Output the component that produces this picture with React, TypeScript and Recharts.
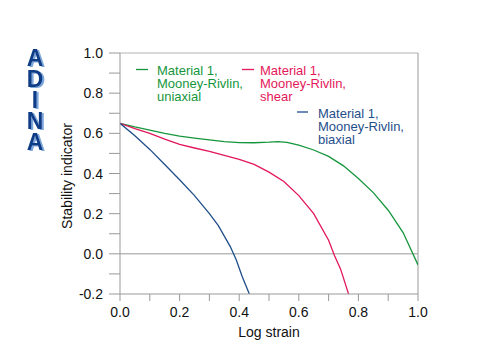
import { Line, LineChart, ReferenceLine, XAxis, YAxis } from "recharts";

interface Pt {
  x: number;
  y: number;
}

const GREEN = "#16963c";
const RED = "#e3175a";
const BLUE = "#1f4e8a";
const AXIS = "#999999";

// uniaxial
const uniaxial: Pt[] = [
  { x: 0, y: 0.65 },
  { x: 0.05, y: 0.632 },
  { x: 0.1, y: 0.616 },
  { x: 0.15, y: 0.6 },
  { x: 0.2, y: 0.586 },
  { x: 0.25, y: 0.576 },
  { x: 0.3, y: 0.567 },
  { x: 0.35, y: 0.559 },
  { x: 0.4, y: 0.554 },
  { x: 0.45, y: 0.553 },
  { x: 0.5, y: 0.556 },
  { x: 0.53, y: 0.559 },
  { x: 0.56, y: 0.555 },
  { x: 0.6, y: 0.541 },
  { x: 0.65, y: 0.517 },
  { x: 0.7, y: 0.485 },
  { x: 0.75, y: 0.438 },
  { x: 0.8, y: 0.375 },
  { x: 0.85, y: 0.305 },
  { x: 0.9, y: 0.217 },
  { x: 0.95, y: 0.106 },
  { x: 1.0, y: -0.055 },
];

// shear
const shear: Pt[] = [
  { x: 0, y: 0.65 },
  { x: 0.05, y: 0.624 },
  { x: 0.1, y: 0.6 },
  { x: 0.15, y: 0.571 },
  { x: 0.2, y: 0.545 },
  { x: 0.25, y: 0.527 },
  { x: 0.3, y: 0.51 },
  { x: 0.35, y: 0.49 },
  { x: 0.4, y: 0.47 },
  { x: 0.45, y: 0.445 },
  { x: 0.5, y: 0.407 },
  { x: 0.55, y: 0.36 },
  { x: 0.6, y: 0.29 },
  { x: 0.65, y: 0.2 },
  { x: 0.7, y: 0.068 },
  { x: 0.72, y: -0.01 },
  { x: 0.74, y: -0.075 },
  { x: 0.767, y: -0.2 },
];

// biaxial
const biaxial: Pt[] = [
  { x: 0, y: 0.65 },
  { x: 0.05, y: 0.588 },
  { x: 0.1, y: 0.52 },
  { x: 0.15, y: 0.445 },
  { x: 0.2, y: 0.369 },
  { x: 0.25, y: 0.29 },
  { x: 0.3, y: 0.2 },
  { x: 0.33, y: 0.14 },
  { x: 0.37, y: 0.036 },
  { x: 0.39, y: -0.03 },
  { x: 0.41, y: -0.113 },
  { x: 0.434, y: -0.2 },
];

const xTicks = [0, 0.1, 0.2, 0.3, 0.4, 0.5, 0.6, 0.7, 0.8, 0.9, 1.0];
const yTicks = [-0.2, -0.1, 0, 0.1, 0.2, 0.3, 0.4, 0.5, 0.6, 0.7, 0.8, 0.9, 1.0];

const legendLines = [
  { color: GREEN, dash: [136, 148, 69.5], tx: 157, ty: 74.5, lines: ["Material 1,", "Mooney-Rivlin,", "uniaxial"] },
  { color: RED, dash: [242, 254, 69.5], tx: 260, ty: 74.5, lines: ["Material 1,", "Mooney-Rivlin,", "shear"] },
  { color: BLUE, dash: [297, 308, 112], tx: 318, ty: 117.5, lines: ["Material 1,", "Mooney-Rivlin,", "biaxial"] },
];

const logo = ["A", "D", "I", "N", "A"];

const FONT = "'Liberation Sans', Arial, sans-serif";

const isMajor = (v: number) => Math.round(v * 10) % 2 === 0;

function XTick(props: any) {
  const { x, y, payload } = props;
  const v = payload.value as number;
  const top = y - 13;
  return (
    <g>
      <line x1={x} x2={x} y1={top} y2={top + 7} stroke={AXIS} strokeWidth={1} />
      {isMajor(v) && (
        <text x={x} y={y} dy="0.71em" textAnchor="middle" fontSize={14} fill="#111" fontFamily={FONT}>
          {v.toFixed(1)}
        </text>
      )}
    </g>
  );
}

function YTick(props: any) {
  const { x, y, payload } = props;
  const v = payload.value as number;
  const right = x + 17;
  return (
    <g>
      <line x1={right - 11} x2={right} y1={y} y2={y} stroke={AXIS} strokeWidth={1} />
      {isMajor(v) && (
        <text x={x} y={y} dy="0.36em" textAnchor="end" fontSize={14} fill="#111" fontFamily={FONT}>
          {v.toFixed(1)}
        </text>
      )}
    </g>
  );
}

export default function App() {
  return (
    <div style={{ position: "absolute", left: 0, top: 0, width: 480, height: 353, background: "#fff" }}>
      <LineChart width={480} height={353} margin={{ top: 53, right: 62, bottom: 29, left: 60 }}>
        <XAxis
          type="number"
          dataKey="x"
          domain={[0, 1]}
          ticks={xTicks}
          interval={0}
          height={30}
          tickSize={7}
          tickMargin={6}
          tickLine={false}
          tick={<XTick />}
          stroke={AXIS}
          allowDataOverflow
        />
        <YAxis
          type="number"
          dataKey="y"
          domain={[-0.2, 1]}
          ticks={yTicks}
          interval={0}
          width={60}
          tickSize={11}
          tickMargin={6}
          tickLine={false}
          tick={<YTick />}
          stroke={AXIS}
          allowDataOverflow
        />
        <ReferenceLine y={0} stroke={AXIS} strokeWidth={1} />
        <ReferenceLine y={1} stroke="#cccccc" strokeWidth={1.5} />
        <ReferenceLine x={1} stroke={AXIS} strokeWidth={1} />
        <Line data={uniaxial} dataKey="y" type="linear" stroke={GREEN} strokeWidth={1.3} dot={false} isAnimationActive={false} />
        <Line data={shear} dataKey="y" type="linear" stroke={RED} strokeWidth={1.3} dot={false} isAnimationActive={false} />
        <Line data={biaxial} dataKey="y" type="linear" stroke={BLUE} strokeWidth={1.3} dot={false} isAnimationActive={false} />
      </LineChart>
      <svg width={480} height={353} style={{ position: "absolute", left: 0, top: 0, pointerEvents: "none" }}>
        <defs>
          <filter id="logoShadow" x="-20%" y="-20%" width="150%" height="150%">
            <feOffset in="SourceAlpha" dx={1.5} dy={1} result="off" />
            <feFlood floodColor="#7fa8dc" />
            <feComposite in2="off" operator="in" result="shadow" />
            <feMerge>
              <feMergeNode in="shadow" />
              <feMergeNode in="SourceGraphic" />
            </feMerge>
          </filter>
        </defs>
        <text x={269} y={332} textAnchor="middle" dominantBaseline="central" fontSize={14} fill="#111" fontFamily={FONT}>
          Log strain
        </text>
        <text
          x={67}
          y={176}
          textAnchor="middle"
          dominantBaseline="central"
          fontSize={14}
          fill="#111"
          fontFamily={FONT}
          transform="rotate(-90 67 176)"
        >
          Stability indicator
        </text>
        {legendLines.map((l) => (
          <g key={l.lines[2]}>
            <line x1={l.dash[0]} x2={l.dash[1]} y1={l.dash[2]} y2={l.dash[2]} stroke={l.color} strokeWidth={1.3} />
            {l.lines.map((s, i) => (
              <text key={s} x={l.tx} y={l.ty + i * 13.3} fontSize={13} fill={l.color} fontFamily={FONT}>
                {s}
              </text>
            ))}
          </g>
        ))}
        <text
          filter="url(#logoShadow)"
          y={66}
          textAnchor="middle"
          fontSize={23}
          fontWeight="bold"
          fill="#0d3c86"
          fontFamily={FONT}
        >
          {logo.map((c, i) => (
            <tspan key={i} x={35} dy={i === 0 ? 0 : 21}>
              {c}
            </tspan>
          ))}
        </text>
      </svg>
    </div>
  );
}
